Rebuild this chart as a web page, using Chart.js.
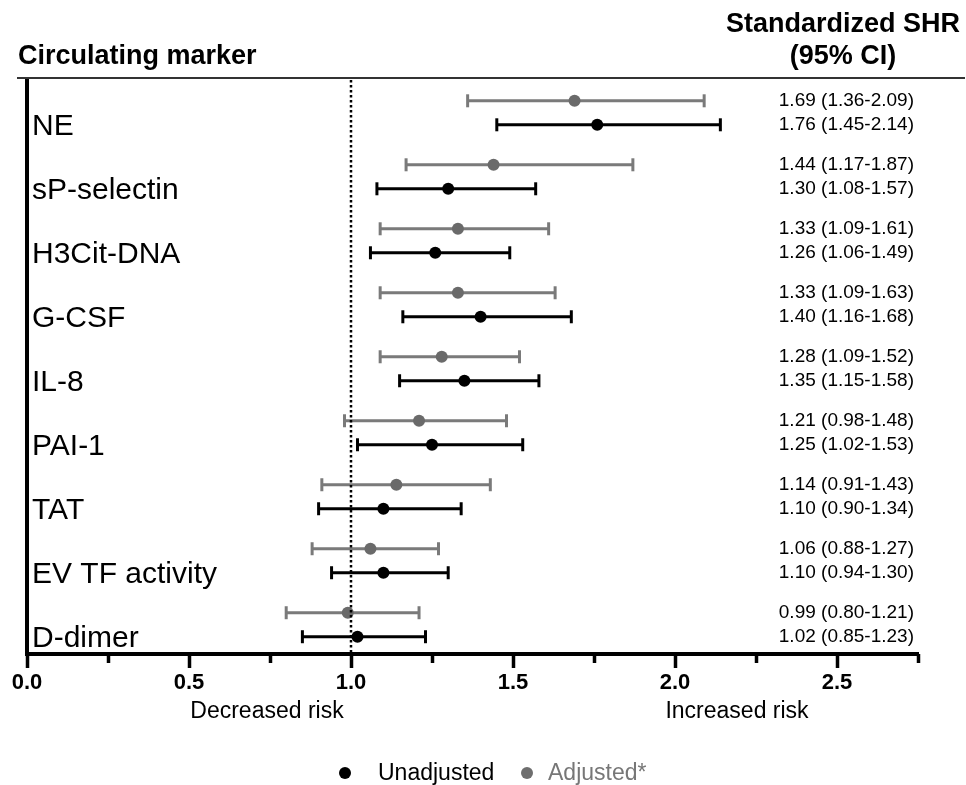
<!DOCTYPE html>
<html>
<head>
<meta charset="utf-8">
<script src="https://cdn.jsdelivr.net/npm/chart.js@4.4.1/dist/chart.umd.min.js"></script>
<style>
  body { margin: 0; background: #fff; font-family: "Liberation Sans", Arial, sans-serif; }
  #wrap { position: relative; width: 966px; height: 785px; }
  #forest { position: absolute; left: 0; top: 0; }
  .txt { position: absolute; white-space: nowrap; line-height: 1; color: #000; }
  .mid { transform: translate(-50%, -50%); }
  .vmid { transform: translateY(-50%); }
  .hdr { font-weight: bold; font-size: 27px; }
  .axis-note { font-size: 23px; }
  .leg { font-size: 23px; }
  .dot { position: absolute; width: 12px; height: 12px; border-radius: 50%; transform: translate(-50%, -50%); }
  #rule { position: absolute; left: 17px; top: 77px; width: 948px; height: 1.5px; background: #333; }
</style>
</head>
<body>
<div id="wrap">
  <canvas id="forest" width="966" height="785"></canvas>
  <div id="rule"></div>
  <div class="txt hdr vmid" style="left:18px; top:55px;">Circulating marker</div>
  <div class="txt hdr mid" style="left:843px; top:23px;">Standardized SHR</div>
  <div class="txt hdr mid" style="left:843px; top:55px;">(95% CI)</div>
  <div class="txt axis-note mid" style="left:267px; top:710px;">Decreased risk</div>
  <div class="txt axis-note mid" style="left:737px; top:710px;">Increased risk</div>
  <div class="dot" style="left:345px; top:773px; background:#000;"></div>
  <div class="txt leg vmid" style="left:378px; top:772px;">Unadjusted</div>
  <div class="dot" style="left:527px; top:773px; background:#6e6e6e;"></div>
  <div class="txt leg vmid" style="left:548px; top:772px; color:#777;">Adjusted*</div>
</div>
<script>
// values, top row first
const markers = ["NE", "sP-selectin", "H3Cit-DNA", "G-CSF", "IL-8", "PAI-1", "TAT", "EV TF activity", "D-dimer"];
const unadjustedShr  = [1.76, 1.30, 1.26, 1.40, 1.35, 1.25, 1.10, 1.10, 1.02];
const unadjustedLow  = [1.45, 1.08, 1.06, 1.16, 1.15, 1.02, 0.90, 0.94, 0.85];
const unadjustedHigh = [2.14, 1.57, 1.49, 1.68, 1.58, 1.53, 1.34, 1.30, 1.23];
const adjustedShr    = [1.69, 1.44, 1.33, 1.33, 1.28, 1.21, 1.14, 1.06, 0.99];
const adjustedLow    = [1.36, 1.17, 1.09, 1.09, 1.09, 0.98, 0.91, 0.88, 0.80];
const adjustedHigh   = [2.09, 1.87, 1.61, 1.63, 1.52, 1.48, 1.43, 1.27, 1.21];
const xMajorTicks = [0, 0.5, 1.0, 1.5, 2.0, 2.5];
const xMinorTicks = [0.25, 0.75, 1.25, 1.75, 2.25, 2.75];
const referenceShr = 1.0;

const FONT = "'Liberation Sans', Arial, sans-serif";
const ADJ_SHIFT = 0.375;   // adjusted row sits a bit above the unadjusted one
const Y_TOP = -0.7, Y_BOTTOM = 8.27;
const X_AXIS_H = 50;
const BLACK = "#000";
const GREY_LINE = "#7a7a7a";
const GREY_DOT = "#6a6a6a";

function ciText(v, lo, hi) {
  return v.toFixed(2) + " (" + lo.toFixed(2) + "-" + hi.toFixed(2) + ")";
}

function whiskerData(low, high, shift) {
  const out = [];
  low.forEach((lo, i) => {
    out.push({ x: lo, y: i - shift }, { x: high[i], y: i - shift }, { x: NaN, y: NaN });
  });
  return out;
}

// right-hand labels: adjusted line then unadjusted line for every marker
const ciRows = [];
markers.forEach((_, i) => {
  ciRows.push({ value: i - ADJ_SHIFT, text: ciText(adjustedShr[i], adjustedLow[i], adjustedHigh[i]) });
  ciRows.push({ value: i, text: ciText(unadjustedShr[i], unadjustedLow[i], unadjustedHigh[i]) });
});

function whiskerSet(data, color) {
  return {
    data, showLine: true, spanGaps: false,
    borderColor: color, borderWidth: 3,
    pointStyle: "line", rotation: 90, pointRadius: 6.5, pointHoverRadius: 6.5,
    pointBorderColor: color, pointBorderWidth: 3,
    xAxisID: "x", yAxisID: "y", order: 2
  };
}

function dotSet(label, values, shift, color) {
  return {
    label,
    data: values.map((v, i) => ({ x: v, y: i - shift })),
    showLine: false, pointStyle: "circle", pointRadius: 6, pointHoverRadius: 6,
    backgroundColor: color, borderColor: color, borderWidth: 0,
    xAxisID: "x", yAxisID: "y", order: 1
  };
}

new Chart(document.getElementById("forest"), {
  type: "scatter",
  data: {
    datasets: [
      whiskerSet(whiskerData(adjustedLow, adjustedHigh, ADJ_SHIFT), GREY_LINE),
      whiskerSet(whiskerData(unadjustedLow, unadjustedHigh, 0), BLACK),
      dotSet("Adjusted*", adjustedShr, ADJ_SHIFT, GREY_DOT),
      dotSet("Unadjusted", unadjustedShr, 0, BLACK),
      {
        data: [{ x: referenceShr, y: Y_TOP }, { x: referenceShr, y: Y_BOTTOM }],
        showLine: true, borderColor: BLACK, borderWidth: 2.5, borderDash: [2.5, 2.5],
        pointRadius: 0, xAxisID: "x", yAxisID: "y", order: 0
      }
    ]
  },
  options: {
    responsive: false,
    animation: false,
    layout: { padding: { left: 27, right: 48, top: 80, bottom: 131 - X_AXIS_H } },
    plugins: { legend: { display: false }, tooltip: { enabled: false } },
    scales: {
      // minor ticks first so they sit right on the plot edge
      xMinor: {
        type: "linear", axis: "x", position: "bottom", min: 0, max: 2.75,
        afterBuildTicks: (s) => { s.ticks = xMinorTicks.map((v) => ({ value: v })); },
        afterFit: (s) => { s.height = 0; },
        grid: { display: true, drawOnChartArea: false, drawTicks: true, tickLength: 9, tickWidth: 3.5, tickColor: BLACK },
        border: { display: false },
        ticks: { display: false }
      },
      x: {
        type: "linear", axis: "x", position: "bottom", min: 0, max: 2.75,
        afterBuildTicks: (s) => { s.ticks = xMajorTicks.map((v) => ({ value: v })); },
        afterFit: (s) => { s.height = X_AXIS_H; },
        grid: { display: true, drawOnChartArea: false, drawTicks: true, tickLength: 14, tickWidth: 3.5, tickColor: BLACK },
        border: { display: true, color: BLACK, width: 4 },
        ticks: {
          autoSkip: false, maxRotation: 0, padding: 2, color: BLACK,
          font: { family: FONT, size: 22, weight: "bold" },
          callback: (v) => Number(v).toFixed(1)
        }
      },
      y: {
        type: "linear", axis: "y", position: "left", reverse: true, min: Y_TOP, max: Y_BOTTOM,
        afterBuildTicks: (s) => { s.ticks = markers.map((_, i) => ({ value: i })); },
        afterFit: (s) => { s.width = 0; },
        grid: { display: false },
        border: { display: true, color: BLACK, width: 4 },
        ticks: {
          mirror: true, autoSkip: false, padding: 5, labelOffset: 2, color: BLACK,
          font: { family: FONT, size: 30 },
          callback: (v, i) => markers[i]
        }
      },
      yCi: {
        type: "linear", axis: "y", position: "right", reverse: true, min: Y_TOP, max: Y_BOTTOM,
        afterBuildTicks: (s) => { s.ticks = ciRows.map((r) => ({ value: r.value })); },
        afterFit: (s) => { s.width = 0; },
        grid: { display: false },
        border: { display: false },
        ticks: {
          mirror: true, autoSkip: false, padding: -4, color: BLACK,
          font: { family: FONT, size: 19 },
          callback: (v, i) => ciRows[i].text
        }
      }
    }
  }
});
</script>
</body>
</html>
